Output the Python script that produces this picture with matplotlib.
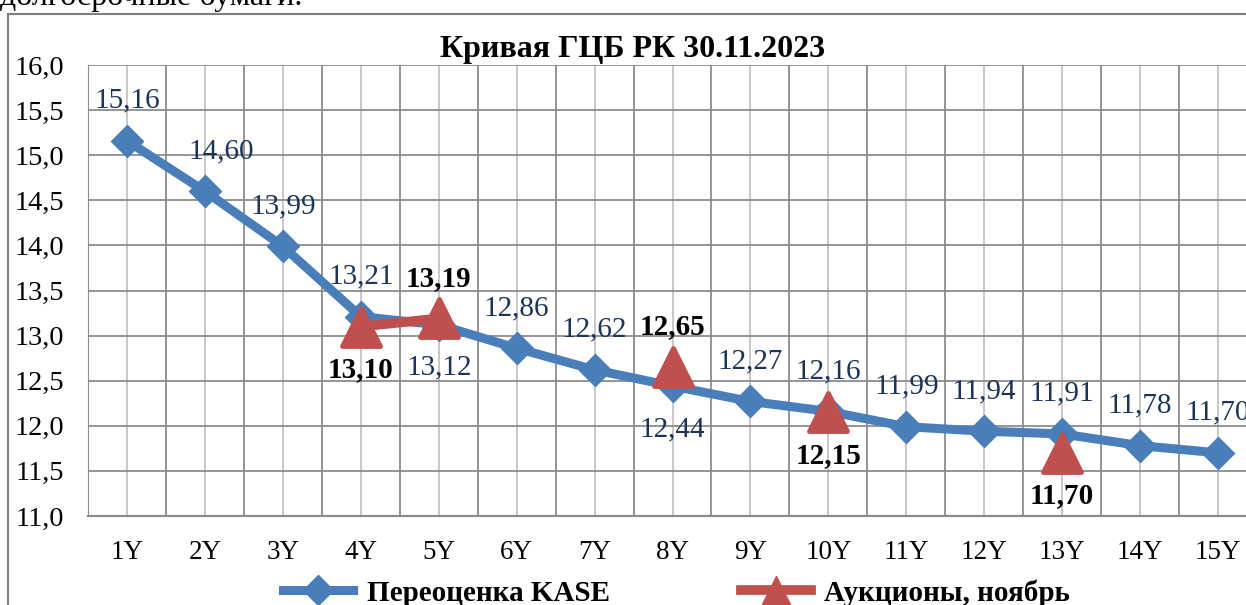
import numpy as np
import matplotlib
matplotlib.use("Agg")
import matplotlib.pyplot as plt
from matplotlib.markers import MarkerStyle
from matplotlib.lines import Line2D
from matplotlib.patches import Rectangle

plt.rcParams['font.family'] = ['Liberation Serif', 'DejaVu Serif']

# data
terms = ['1Y', '2Y', '3Y', '4Y', '5Y', '6Y', '7Y', '8Y', '9Y', '10Y', '11Y', '12Y', '13Y', '14Y', '15Y']
kase = [15.16, 14.60, 13.99, 13.21, 13.12, 12.86, 12.62, 12.44, 12.27, 12.16, 11.99, 11.94, 11.91, 11.78, 11.70]
auction = [np.nan, np.nan, np.nan, 13.10, 13.19, np.nan, np.nan, 12.65, np.nan, 12.15, np.nan, np.nan, 11.70, np.nan, np.nan]
kase_label_below = [t in ('5Y', '8Y') for t in terms]
auction_label_below = [t in ('4Y', '10Y', '13Y') for t in terms]
y_ticks = [11.0, 11.5, 12.0, 12.5, 13.0, 13.5, 14.0, 14.5, 15.0, 15.5, 16.0]

blue = '#4a7ebb'
red = '#c0504d'
navy = '#1b3458'

fig = plt.figure(figsize=(12.46, 6.05), dpi=100)
ax = fig.add_axes([88 / 1246, 89 / 605, 1169 / 1246, 451 / 605])

x = np.arange(len(terms))
ax.plot(x, kase, color=blue, lw=6.5, solid_capstyle='round',
        marker=MarkerStyle('D', joinstyle='round'), markersize=16, zorder=3)
ax.plot(x, auction, color=red, lw=7, solid_capstyle='round',
        marker=MarkerStyle('^', joinstyle='round'), markersize=28, markeredgewidth=3.5, zorder=4)

for i, v in enumerate(kase):
    dy = -31 if kase_label_below[i] else 29
    dx = 12 if i == 1 else 0
    ax.annotate(f'{v:.2f}'.replace('.', ','), (i, v), xytext=(dx, dy), textcoords='offset points',
                ha='center', va='center', fontsize=21, color=navy, zorder=5)
for i, v in enumerate(auction):
    if np.isnan(v):
        continue
    dy = -31 if auction_label_below[i] else 29
    ax.annotate(f'{v:.2f}'.replace('.', ','), (i, v), xytext=(0, dy), textcoords='offset points',
                ha='center', va='center', fontsize=21, color='black', fontweight='bold', zorder=5)

ax.set_xlim(-0.5, len(terms) - 0.5)
ax.set_ylim(11, 16)
ax.set_yticks(y_ticks)
ax.set_yticklabels([f'{t:.1f}'.replace('.', ',') for t in y_ticks], fontsize=20.5)
ax.set_xticks(x)
ax.set_xticklabels(terms, fontsize=19.5)
ax.set_xticks(np.arange(-0.5, len(terms), 1), minor=True)
ax.tick_params(axis='both', length=0, which='both')
ax.tick_params(axis='y', pad=17)
ax.tick_params(axis='x', pad=17)
ax.grid(True, axis='y', color='#8c8c8c', lw=1.3)
ax.grid(True, axis='x', which='major', color='#c4c4c4', lw=1.3)
ax.grid(True, axis='x', which='minor', color='#8c8c8c', lw=1.3)
ax.set_axisbelow(True)
for s in ['top', 'right']:
    ax.spines[s].set_visible(False)
ax.spines['left'].set_color('#8c8c8c')
ax.spines['bottom'].set_color('#8c8c8c')
ax.spines['bottom'].set_linewidth(1.6)

ax.set_title('Кривая ГЦБ РК 30.11.2023', fontsize=23, fontweight='bold', pad=6, x=(633 - 88) / 1169)

handles = [Line2D([], [], color=blue, lw=6.5, marker=MarkerStyle('D', joinstyle='round'), markersize=15),
           Line2D([], [], color=red, lw=7, marker=MarkerStyle('^', joinstyle='round'), markersize=20)]
fig.legend(handles, ['Переоценка KASE', 'Аукционы, ноябрь'], loc='center', bbox_to_anchor=(0.543, 0.02),
           ncol=2, frameon=False, prop={'size': 21, 'weight': 'bold'},
           handlelength=2.4, handletextpad=0.45, columnspacing=4.5)

fig.patches.append(Rectangle((8 / 1246, -0.1), 1.2, 0.1 + 591 / 605, transform=fig.transFigure,
                             fill=False, edgecolor='#7f7f7f', lw=1.5))
fig.text(0.0, 1 - 5 / 605, 'долгосрочные бумаги.', fontsize=23, va='baseline', ha='left')

fig.savefig('out.png', dpi=100)
